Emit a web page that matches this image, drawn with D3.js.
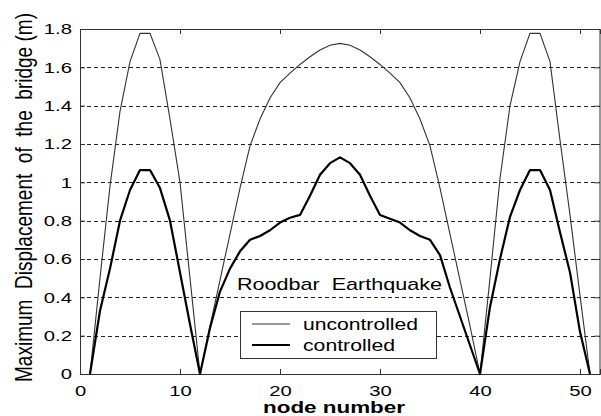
<!DOCTYPE html>
<html><head><meta charset="utf-8">
<script src="https://cdn.jsdelivr.net/npm/d3@7"></script>
<style>body{margin:0;background:#fff} svg{display:block} text{font-family:"Liberation Sans",Arial,sans-serif;fill:#000;white-space:pre}</style>
</head><body><svg id="c" width="601" height="416"></svg>
<script>
const nodes = [1,2,3,4,5,6,7,8,9,10,11,12,13,14,15,16,17,18,19,20,21,22,23,24,25,26,27,28,29,30,31,32,33,34,35,36,37,38,39,40,41,42,43,44,45,46,47,48,49,50,51];
const uncontrolled = [0,0.5,0.98,1.37,1.63,1.777,1.777,1.64,1.33,1.0,0.5,0,
  0.25,0.49,0.73,0.97,1.19,1.33,1.44,1.52,1.57,1.615,1.655,1.69,1.715,1.725,1.715,1.69,1.655,1.615,1.57,1.52,1.44,1.33,1.19,0.97,0.73,0.49,0.25,0,
  0.5,1.02,1.4,1.63,1.777,1.777,1.63,1.22,0.83,0.41,0];
const controlled = [0,0.33,0.55,0.8,0.96,1.064,1.064,0.97,0.8,0.53,0.26,0,
  0.24,0.43,0.55,0.64,0.70,0.72,0.75,0.79,0.815,0.83,0.93,1.04,1.10,1.13,1.10,1.04,0.93,0.83,0.81,0.79,0.75,0.72,0.70,0.62,0.45,0.30,0.15,0,
  0.35,0.6,0.82,0.96,1.064,1.064,0.96,0.74,0.53,0.22,0];
const xTicks = [0,10,20,30,40,50];
const xTickLabels = ["0","10","20","30","40","50"];
const yTicks = [0,0.2,0.4,0.6,0.8,1,1.2,1.4,1.6,1.8];
const yTickLabels = ["0","0.2","0.4","0.6","0.8","1","1.2","1.4","1.6","1.8"];
const seriesNames = ["uncontrolled","controlled"];
const titleText = "Roodbar  Earthquake";
const xLabelText = "node number";
const yLabelText = "Maximum  Displacement  of  the  bridge (m)";

const svg = d3.select("#c");
const x = d3.scaleLinear().domain([0,52]).range([80,600]);
const y = d3.scaleLinear().domain([0,1.8]).range([374,29]);
const axisColor = "#333";

function stretch(sel, k){
  sel.each(function(){
    const w = this.getComputedTextLength();
    d3.select(this).attr("textLength", w*k).attr("lengthAdjust","spacingAndGlyphs");
  });
}

// grid
svg.append("g").selectAll("line").data(yTicks.filter(v=>v>0 && v<1.8)).join("line")
  .attr("x1",x(0)).attr("x2",x(52)).attr("y1",d=>Math.round(y(d))+0.5).attr("y2",d=>Math.round(y(d))+0.5)
  .attr("stroke","#222").attr("stroke-width",1).attr("stroke-dasharray","4,3");

// axes
const gB = svg.append("g").attr("transform","translate(0,374)")
  .call(d3.axisBottom(x).tickValues(xTicks).tickSize(-5).tickPadding(11).tickFormat((d,i)=>xTickLabels[i]));
const gT = svg.append("g").attr("transform","translate(0,29)")
  .call(d3.axisTop(x).tickValues(xTicks).tickSize(-5).tickFormat(""));
const gL = svg.append("g").attr("transform","translate(80,0)")
  .call(d3.axisLeft(y).tickValues(yTicks).tickSize(-5).tickPadding(8).tickFormat((d,i)=>yTickLabels[i]));
const gR = svg.append("g").attr("transform","translate(599.5,0)")
  .call(d3.axisRight(y).tickValues(yTicks).tickSize(-5).tickFormat(""));
[gB,gT,gL,gR].forEach(g=>{
  g.select(".domain").attr("stroke",axisColor);
  g.selectAll(".tick line").attr("stroke",axisColor);
  g.selectAll("text").attr("font-size",15).attr("font-family",null).attr("fill","#000");
});
gB.selectAll(".tick text").attr("dy","0.71em").attr("y",11);
stretch(gB.selectAll(".tick text"),1.35);
stretch(gL.selectAll(".tick text"),1.35);

// lines
const line = d3.line().x((d,i)=>x(nodes[i])).y(d=>y(d));
svg.append("path").datum(uncontrolled).attr("d",line).attr("fill","none").attr("stroke","#333").attr("stroke-width",1.1);
svg.append("path").datum(controlled).attr("d",line).attr("fill","none").attr("stroke","#000").attr("stroke-width",2.2).attr("stroke-linejoin","round");

// title text
svg.append("text").attr("x",237).attr("y",290).attr("font-size",17).attr("textLength",205).attr("lengthAdjust","spacingAndGlyphs").text(titleText);

// legend
const lg = svg.append("g");
lg.append("rect").attr("x",240.5).attr("y",311.5).attr("width",196).attr("height",47).attr("fill","#fff").attr("stroke","#333");
const lw = [1.1,2.2], lc=["#333","#000"], ly=[324,345], lt=[115,92];
seriesNames.forEach((s,i)=>{
  lg.append("line").attr("x1",252).attr("x2",290).attr("y1",ly[i]).attr("y2",ly[i]).attr("stroke",lc[i]).attr("stroke-width",lw[i]);
  lg.append("text").attr("x",303).attr("y",ly[i]+6).attr("font-size",17).attr("textLength",lt[i]).attr("lengthAdjust","spacingAndGlyphs").text(s);
});

// axis labels
svg.append("text").attr("x",334).attr("y",413).attr("text-anchor","middle").attr("font-size",16).attr("font-weight","bold").attr("textLength",142).attr("lengthAdjust","spacingAndGlyphs").text(xLabelText);
svg.append("text").attr("transform","translate(31.5,197.5) rotate(-90) scale(1,1.3)").attr("text-anchor","middle").attr("font-size",18).attr("textLength",369).attr("lengthAdjust","spacingAndGlyphs").text(yLabelText);
</script></body></html>
